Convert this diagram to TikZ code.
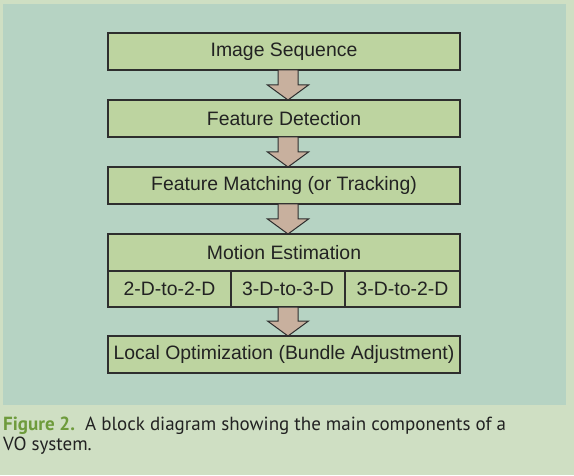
\documentclass[tikz,border=0pt]{standalone}
\usepackage{fontspec}
\setmainfont{Liberation Sans}
\newfontfamily\captionfont{PT Sans}
\usetikzlibrary{positioning,calc}
\definecolor{pagegreen}{HTML}{CFDFC3}
\definecolor{panelblue}{HTML}{B6D3C3}
\definecolor{boxgreen}{HTML}{BDD4A0}
\definecolor{boxline}{HTML}{2E2E2E}
\definecolor{arrowtan}{HTML}{C8B09E}
\definecolor{textgray}{HTML}{222222}
\definecolor{figgreen}{HTML}{6E9B3C}
\tikzset{
  stage/.style={draw=boxline, fill=boxgreen, line width=1.4pt, outer sep=0pt,
    minimum width=352pt, minimum height=37pt, inner sep=0pt, text=textgray,
    font=\fontsize{19.4}{23}\selectfont},
  cell/.style={stage, minimum width=#1, minimum height=36pt},
  fatarrow/.style={draw=boxline, fill=arrowtan, line width=1pt, line join=miter,
    to path={($(\tikztostart)+(-6,0)$) -- ($(\tikztotarget)+(-6,15)$)
      -- ($(\tikztotarget)+(-16.5,15)$) -- ($(\tikztotarget)+(4,0)$)
      -- ($(\tikztotarget)+(24.5,15)$) -- ($(\tikztotarget)+(14,15)$)
      -- ($(\tikztostart)+(14,0)$) -- cycle}}
}
\begin{document}
\begin{tikzpicture}[x=1pt,y=1pt,node distance=30pt]
  % background and panel
  \fill[pagegreen] (0,0) rectangle (574,475);
  \fill[panelblue] (3,70) rectangle (566,471);
  % blocks
  \node[stage] (img) at (284,423.5) {Image Sequence};
  \node[stage, below=of img] (det) {Feature Detection};
  \node[stage, below=of det] (mat) {Feature Matching (or Tracking)};
  \node[stage, below=of mat] (mot) {Motion Estimation};
  \node[cell=123pt, below=0pt of mot.south west, anchor=north west] (dd) {2-D-to-2-D};
  \node[cell=114pt, right=0pt of dd] (tt) {3-D-to-3-D};
  \node[cell=115pt, right=0pt of tt] (td) {3-D-to-2-D};
  \node[stage, below=29pt of dd.south west, anchor=north west] (opt) {Local Optimization (Bundle Adjustment)};
  % arrows
  \draw[fatarrow] (img.south) to (det.north);
  \draw[fatarrow] (det.south) to (mat.north);
  \draw[fatarrow] (mat.south) to (mot.north);
  \draw[fatarrow] (tt.south -| opt.north) to (opt.north);
  % caption
  \node[anchor=north west, inner sep=0pt, align=left, text=textgray,
    font=\captionfont\fontsize{19}{20.5}\selectfont] (cap) at (3,58.5)
    {\textcolor{figgreen}{\bfseries Figure 2.}\ \ A block diagram showing the main components of a\\VO system.};
\end{tikzpicture}
\end{document}
